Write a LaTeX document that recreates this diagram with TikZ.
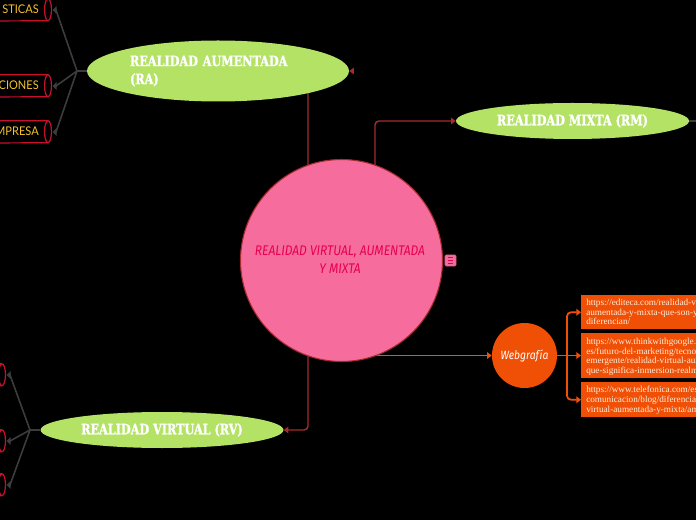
\documentclass[tikz,border=0pt]{standalone}
\usepackage{fontspec}
\setmainfont{Liberation Serif}
\newfontfamily\slabfont[FakeStretch=0.78,FakeBold=1.5,BoldFont={DejaVu Serif Bold}]{DejaVu Serif}
\newfontfamily\handfont[FakeStretch=0.86]{Fira Sans}
\newfontfamily\tagfont[FakeStretch=0.92]{Lato}
\usetikzlibrary{arrows.meta,backgrounds,shapes.geometric}
\definecolor{rootpink}{HTML}{F66C9C}
\definecolor{rootred}{HTML}{E6004F}
\definecolor{linered}{HTML}{A62A2E}
\definecolor{leafgreen}{HTML}{B3E264}
\definecolor{weborange}{HTML}{F05006}
\definecolor{tagred}{HTML}{C8102E}
\definecolor{tagyellow}{HTML}{F2C230}
\definecolor{linegrey}{HTML}{3C3C3C}
\tikzset{
    branch/.style={ellipse, fill=leafgreen, inner sep=0pt, text=white,
        font=\slabfont\bfseries\fontsize{10.8}{13.5}\selectfont},
    tagbox/.style={anchor=east, inner sep=0pt, minimum width=90pt, minimum height=16.5pt},
    tagline/.style={draw=tagred, line width=0.9pt},
    taglabel/.style={anchor=east, inner sep=0pt, text=tagyellow,
        font=\tagfont\fontsize{9}{11}\selectfont},
    urlbox/.style={anchor=north west, fill=weborange, inner sep=0pt,
        minimum width=120pt},
    urltext/.style={anchor=north west, inner sep=0pt, align=left, text=white!85!orange,
        font=\fontsize{6.9}{7.4}\selectfont},
    redline/.style={linered, line width=1.1pt, rounded corners=3pt, -{Triangle[length=3.5pt,width=5pt]}},
    greyline/.style={linegrey, line width=1.2pt},
    greytip/.style={linegrey, line width=1.2pt, -{Triangle[length=3pt,width=5.5pt]}},
    orangeline/.style={weborange, line width=1.3pt, rounded corners=3pt, -{Triangle[length=3.5pt,width=5pt]}},
    orangedirect/.style={weborange, line width=1.3pt, -{Triangle[length=3.5pt,width=5pt]}},
}
\newcommand{\tagcyl}[1]{
    \draw[tagline] (#1.north west) -- (#1.north east)
        arc[start angle=90, end angle=-90, x radius=2.6pt, y radius=8.25pt] -- (#1.south west);
    \draw[tagline] (#1.north east) arc[start angle=90, end angle=270, x radius=2.6pt, y radius=8.25pt];
}
\begin{document}
\begin{tikzpicture}[x=0.75pt,y=-0.75pt]
    \useasboundingbox (0,0) rectangle (696,520);
    \clip (0,0) rectangle (696,520);

    \node[circle, draw=linered, thick, fill=rootpink, inner sep=0pt, minimum size=151.5pt] (root) at (341.5,260.5) {};
    \node[align=center, inner sep=0pt, text=rootred, font=\handfont\itshape\fontsize{10.5}{13.5}\selectfont]
        (roottext) at (340,260) {REALIDAD VIRTUAL, AUMENTADA\\Y MIXTA};

    % three branches
    \node[branch, minimum width=196.5pt, minimum height=45.75pt, text width=132pt, align=left]
        (ra) at (218,71) {REALIDAD AUMENTADA\\(RA)};
    \node[branch, minimum width=174.75pt, minimum height=27pt] (rm) at (572.5,121) {REALIDAD MIXTA (RM)};
    \node[branch, minimum width=182.25pt, minimum height=27pt] (rv) at (162,430) {REALIDAD VIRTUAL (RV)};

    % note icon
    \node[draw=rootpink!80!black, fill=rootpink, rounded corners=1pt, inner sep=0pt,
        minimum size=8.5pt] (note) at (450.5,260.5) {};
    \foreach \dy in {-2.5,0,2.5} {
        \draw[rootred, line width=0.5pt] ([xshift=-2.2pt,yshift=\dy pt]note.center) -- ([xshift=2.2pt,yshift=\dy pt]note.center);
    }

    % tags on the left
    \node[tagbox] (ra1) at (48,10) {};
    \node[tagbox] (ra2) at (48,86) {};
    \node[tagbox] (ra3) at (48,132) {};
    \node[tagbox] (rv1) at (2,375) {};
    \node[tagbox] (rv2) at (2,441) {};
    \node[tagbox] (rv3) at (2,485) {};
    \tagcyl{ra1} \tagcyl{ra2} \tagcyl{ra3}
    \tagcyl{rv1} \tagcyl{rv2} \tagcyl{rv3}
    \node[taglabel] (ra1t) at (39,9) {STICAS};
    \node[taglabel] (ra2t) at (39,85) {CIONES};
    \node[taglabel] (ra3t) at (39,131) {MPRESA};

    % web list
    \node[circle, fill=weborange, inner sep=0pt, minimum size=48.75pt, text=white,
        font=\handfont\itshape\fontsize{9}{11}\selectfont] (web) at (524.5,355.5) {Webgrafía};
    \node[urlbox, minimum height=25.5pt] (url1) at (581,295) {};
    \node[urlbox, minimum height=33.75pt] (url2) at (581,333) {};
    \node[urlbox, minimum height=26.25pt] (url3) at (581,382) {};
    \node[urltext] (url1t) at (586,298.5) {https://editeca.com/realidad-virtual-\\aumentada-y-mixta-que-son-y-\\diferencian/};
    \node[urltext] (url2t) at (586,337.5) {https://www.thinkwithgoogle.com/\\es/futuro-del-marketing/tecnologia-\\emergente/realidad-virtual-aumentada-\\que-significa-inmersion-realmente/};
    \node[urltext] (url3t) at (586,386) {https://www.telefonica.com/es/\\comunicacion/blog/diferencias-\\virtual-aumentada-y-mixta/amp/};

    \coordinate (hubra) at (77,71);
    \coordinate (hubrv) at (30,430);
    \coordinate (rmend) at (696,121);
    \coordinate (hubweb) at (567,355.5);
    \coordinate (ratip) at (353,71);

    \begin{pgfonlayer}{background}
        \fill[black] (0,0) rectangle (696,520);
        \draw[redline] (308,260) -- (308,71) -- (ra.east);
        \draw[redline] (375,260) -- (375,121) -- (rm.west);
        \draw[redline] (308,260) -- (308,430) -- (rv.east);
        \draw[orangedirect] (root.center |- web) -- (web.west);

        \draw[greyline] (ra.west) -- (hubra);
        \draw[greyline] (rv.west) -- (hubrv);
        \draw[greyline] (rm.east) -- (rmend);
        \draw[orangedirect, -] (web.east) -- (hubweb);
    \end{pgfonlayer}
    \draw[redline] (ratip) -- (ra.east);

    \foreach \t in {ra1,ra2,ra3} {
        \draw[greyline] (hubra) -- ([xshift=6pt]\t.east);
        \draw[greytip] ([xshift=6pt]\t.east) -- ([xshift=3.4pt]\t.east);
    }
    \foreach \t in {rv1,rv2,rv3} {
        \draw[greyline] (hubrv) -- ([xshift=6pt]\t.east);
        \draw[greytip] ([xshift=6pt]\t.east) -- ([xshift=3.4pt]\t.east);
    }

    \draw[orangeline] (hubweb) |- (url1.west);
    \draw[orangedirect] (hubweb) -- (url2.west |- hubweb);
    \draw[orangeline] (hubweb) |- (url3.west);
\end{tikzpicture}
\end{document}
